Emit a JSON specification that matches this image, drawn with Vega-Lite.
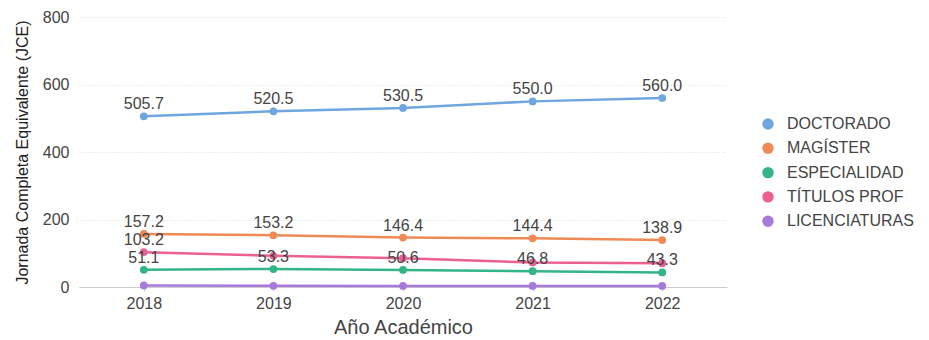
{
  "$schema": "https://vega.github.io/schema/vega-lite/v6.json",
  "width": 648,
  "height": 270,
  "autosize": "none",
  "padding": {"left": 79, "top": 17, "right": 202, "bottom": 53},
  "background": "white",
  "config": {
    "font": "Liberation Sans",
    "view": {"stroke": null}
  },
  "data": {
    "values": [
      {"anio": "2018", "programa": "DOCTORADO", "jce": 505.7},
      {"anio": "2019", "programa": "DOCTORADO", "jce": 520.5},
      {"anio": "2020", "programa": "DOCTORADO", "jce": 530.5},
      {"anio": "2021", "programa": "DOCTORADO", "jce": 550.0},
      {"anio": "2022", "programa": "DOCTORADO", "jce": 560.0},
      {"anio": "2018", "programa": "MAGÍSTER", "jce": 157.2},
      {"anio": "2019", "programa": "MAGÍSTER", "jce": 153.2},
      {"anio": "2020", "programa": "MAGÍSTER", "jce": 146.4},
      {"anio": "2021", "programa": "MAGÍSTER", "jce": 144.4},
      {"anio": "2022", "programa": "MAGÍSTER", "jce": 138.9},
      {"anio": "2018", "programa": "ESPECIALIDAD", "jce": 51.1},
      {"anio": "2019", "programa": "ESPECIALIDAD", "jce": 53.3},
      {"anio": "2020", "programa": "ESPECIALIDAD", "jce": 50.6},
      {"anio": "2021", "programa": "ESPECIALIDAD", "jce": 46.8},
      {"anio": "2022", "programa": "ESPECIALIDAD", "jce": 43.3},
      {"anio": "2018", "programa": "TÍTULOS PROF", "jce": 103.2},
      {"anio": "2019", "programa": "TÍTULOS PROF", "jce": 92.5},
      {"anio": "2020", "programa": "TÍTULOS PROF", "jce": 85.4},
      {"anio": "2021", "programa": "TÍTULOS PROF", "jce": 72.6},
      {"anio": "2022", "programa": "TÍTULOS PROF", "jce": 70.4},
      {"anio": "2018", "programa": "LICENCIATURAS", "jce": 4.6},
      {"anio": "2019", "programa": "LICENCIATURAS", "jce": 3.4},
      {"anio": "2020", "programa": "LICENCIATURAS", "jce": 3.3},
      {"anio": "2021", "programa": "LICENCIATURAS", "jce": 3.1},
      {"anio": "2022", "programa": "LICENCIATURAS", "jce": 3.0}
    ]
  },
  "encoding": {
    "x": {
      "field": "anio",
      "type": "ordinal",
      "scale": {"type": "point", "padding": 0.5},
      "axis": {
        "title": "Año Académico",
        "titleFontSize": 20,
        "titleFontWeight": "normal",
        "titleColor": "#444444",
        "titlePadding": 6,
        "labelAngle": 0,
        "labelFontSize": 16,
        "labelColor": "#444444",
        "labelPadding": 4,
        "domainColor": "#cccccc",
        "domainWidth": 1,
        "tickColor": "#cccccc",
        "tickSize": 4,
        "grid": false
      }
    },
    "y": {
      "field": "jce",
      "type": "quantitative",
      "scale": {"domain": [0, 800], "nice": false},
      "axis": {
        "title": "Jornada Completa Equivalente (JCE)",
        "titleFontSize": 16,
        "titleFontWeight": "normal",
        "titleColor": "#222222",
        "titlePadding": 12,
        "values": [0, 200, 400, 600, 800],
        "labelFontSize": 16,
        "labelColor": "#444444",
        "labelPadding": 10,
        "domain": false,
        "ticks": false,
        "grid": true,
        "gridColor": "#dddddd",
        "gridDash": [1, 2],
        "gridWidth": 1
      }
    },
    "color": {
      "field": "programa",
      "type": "nominal",
      "sort": ["DOCTORADO", "MAGÍSTER", "ESPECIALIDAD", "TÍTULOS PROF", "LICENCIATURAS"],
      "scale": {
        "domain": ["DOCTORADO", "MAGÍSTER", "ESPECIALIDAD", "TÍTULOS PROF", "LICENCIATURAS"],
        "range": ["#6fa6e0", "#ef8a55", "#33b585", "#ec6090", "#a879db"]
      },
      "legend": {
        "title": null,
        "orient": "none",
        "legendX": 681,
        "legendY": 99,
        "symbolType": "circle",
        "symbolSize": 130,
        "symbolStrokeWidth": 0,
        "labelFontSize": 16,
        "labelColor": "#444444",
        "labelOffset": 11,
        "rowPadding": 8.3
      }
    }
  },
  "layer": [
    {
      "mark": {"type": "line", "strokeWidth": 2.5}
    },
    {
      "mark": {"type": "circle", "size": 60, "opacity": 1}
    },
    {
      "transform": [
        {"filter": "datum.programa !== 'LICENCIATURAS' && (datum.programa !== 'TÍTULOS PROF' || datum.anio === '2018')"}
      ],
      "mark": {"type": "text", "dy": -12, "fontSize": 16},
      "encoding": {
        "text": {"field": "jce", "type": "quantitative", "format": ".1f"},
        "color": {"value": "#444444"}
      }
    }
  ]
}
